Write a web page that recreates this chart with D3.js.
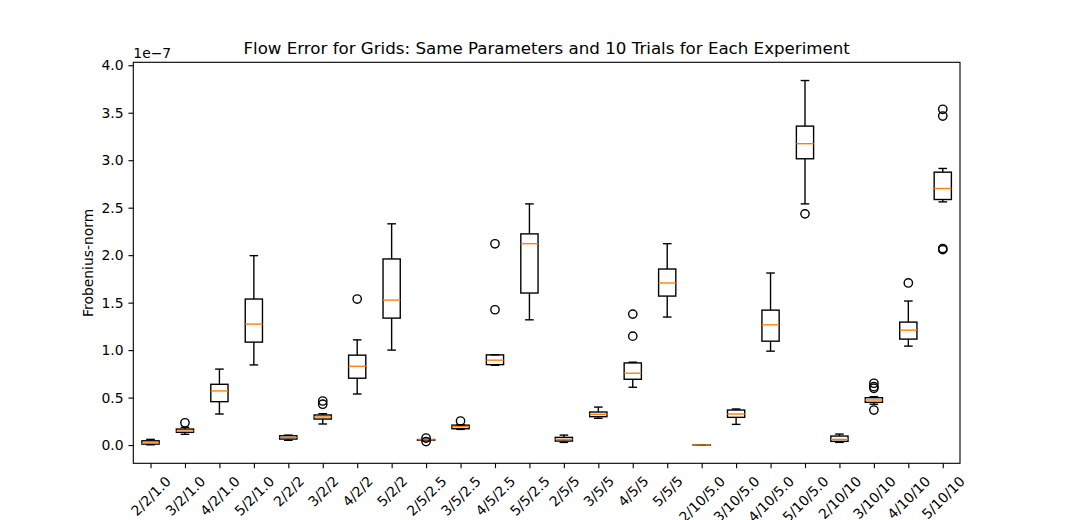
<!DOCTYPE html>
<html>
<head>
<meta charset="utf-8">
<script src="https://cdn.jsdelivr.net/npm/d3@7"></script>
<style>
  body { margin: 0; background: #fff; }
  text { font-family: "DejaVu Sans", sans-serif; fill: #000; }
</style>
</head>
<body>
<svg width="1067" height="520"></svg>
<script>
// values in units of 1e-7
var categories = ["2/2/1.0", "3/2/1.0", "4/2/1.0", "5/2/1.0", "2/2/2", "3/2/2", "4/2/2", "5/2/2",
    "2/5/2.5", "3/5/2.5", "4/5/2.5", "5/5/2.5", "2/5/5", "3/5/5", "4/5/5", "5/5/5",
    "2/10/5.0", "3/10/5.0", "4/10/5.0", "5/10/5.0", "2/10/10", "3/10/10", "4/10/10", "5/10/10"];
var whiskerLow  = [0.003, 0.113, 0.327, 0.844, 0.050, 0.222, 0.538, 1.000,
    0.045, 0.165, 0.840, 1.319, 0.028, 0.282, 0.609, 1.348,
    0.000, 0.218, 0.989, 2.540, 0.028, 0.430, 1.042, 2.561];
var q1          = [0.010, 0.134, 0.457, 1.084, 0.063, 0.274, 0.704, 1.337,
    0.050, 0.172, 0.847, 1.601, 0.042, 0.299, 0.693, 1.569,
    0.0005, 0.292, 1.094, 3.015, 0.039, 0.450, 1.116, 2.586];
var median      = [0.022, 0.148, 0.570, 1.274, 0.081, 0.296, 0.830, 1.527,
    0.055, 0.195, 0.894, 2.121, 0.060, 0.324, 0.757, 1.707,
    0.001, 0.327, 1.266, 3.174, 0.060, 0.475, 1.210, 2.702];
var q3          = [0.045, 0.169, 0.640, 1.538, 0.098, 0.317, 0.947, 1.960,
    0.058, 0.210, 0.950, 2.224, 0.081, 0.348, 0.865, 1.854,
    0.0015, 0.369, 1.421, 3.359, 0.095, 0.499, 1.295, 2.874];
var whiskerHigh = [0.060, 0.187, 0.800, 1.995, 0.105, 0.330, 1.108, 2.330,
    0.062, 0.215, 0.950, 2.540, 0.105, 0.400, 0.873, 2.121,
    0.002, 0.380, 1.812, 3.839, 0.116, 0.510, 1.517, 2.913];
var outliers = [[], [0.235], [], [], [], [0.464, 0.430], [1.538], [],
    [0.074, 0.037], [0.253], [2.120, 1.425], [], [], [], [1.379, 1.147], [],
    [], [], [], [2.435], [], [0.651, 0.615, 0.598, 0.369], [1.707], [3.536, 3.465, 2.058, 2.070]];
var yTicks = [0, 0.5, 1, 1.5, 2, 2.5, 3, 3.5, 4];

var svg = d3.select("svg");
var mLeft = 133.3, mRight = 960, mTop = 62.3, mBottom = 463.3;
var lw = 1.39;

var x = d3.scaleLinear().domain([0.5, categories.length + 0.5]).range([mLeft, mRight]);
var y = d3.scaleLinear().domain([-0.192, 4.031]).range([mBottom, mTop]);
var halfW = (x(1.25) - x(1));

svg.append("rect").attr("width", 1067).attr("height", 520).attr("fill", "#fff");

var g = svg.append("g");
categories.forEach(function(c, i) {
    var cx = x(i + 1);
    // whiskers
    g.append("line").attr("x1", cx).attr("x2", cx).attr("y1", y(q1[i])).attr("y2", y(whiskerLow[i]))
        .attr("stroke", "#000").attr("stroke-width", lw);
    g.append("line").attr("x1", cx).attr("x2", cx).attr("y1", y(q3[i])).attr("y2", y(whiskerHigh[i]))
        .attr("stroke", "#000").attr("stroke-width", lw);
    // caps
    [whiskerLow[i], whiskerHigh[i]].forEach(function(v) {
        g.append("line").attr("x1", cx - halfW / 2).attr("x2", cx + halfW / 2).attr("y1", y(v)).attr("y2", y(v))
            .attr("stroke", "#000").attr("stroke-width", lw);
    });
    // box
    g.append("rect").attr("x", cx - halfW).attr("width", 2 * halfW)
        .attr("y", y(q3[i])).attr("height", Math.max(0, y(q1[i]) - y(q3[i])))
        .attr("fill", "none").attr("stroke", "#000").attr("stroke-width", lw);
    // median
    g.append("line").attr("x1", cx - halfW).attr("x2", cx + halfW).attr("y1", y(median[i])).attr("y2", y(median[i]))
        .attr("stroke", "#ff7f0e").attr("stroke-width", lw);
    // fliers
    outliers[i].forEach(function(v) {
        g.append("circle").attr("cx", cx).attr("cy", y(v)).attr("r", 4.17)
            .attr("fill", "none").attr("stroke", "#000").attr("stroke-width", lw);
    });
});

// frame
svg.append("rect").attr("x", mLeft).attr("y", mTop).attr("width", mRight - mLeft).attr("height", mBottom - mTop)
    .attr("fill", "none").attr("stroke", "#000").attr("stroke-width", 1.11);

// y axis
var yAxis = svg.append("g").attr("transform", "translate(" + mLeft + ",0)")
    .call(d3.axisLeft(y).tickValues(yTicks).tickFormat(d3.format(".1f")).tickSize(4.86).tickPadding(4.86).tickSizeOuter(0));
yAxis.select(".domain").remove();
yAxis.selectAll("line").attr("stroke-width", 1.11);
yAxis.selectAll("text").attr("font-size", 13.9).attr("font-family", "DejaVu Sans");

// x axis
var xAxis = svg.append("g").attr("transform", "translate(0," + mBottom + ")")
    .call(d3.axisBottom(x).tickValues(d3.range(1, categories.length + 1))
        .tickFormat(function(d) { return categories[d - 1]; }).tickSize(4.86).tickSizeOuter(0));
xAxis.select(".domain").remove();
xAxis.selectAll("line").attr("stroke-width", 1.11);
xAxis.selectAll("text")
    .attr("font-size", 13.9).attr("font-family", "DejaVu Sans")
    .attr("text-anchor", "middle").attr("x", 0).attr("y", 0).attr("dy", "0.35em")
    .each(function() {
        var w = this.getComputedTextLength();
        var h = 16;
        var off = 9.72 + (w + h) / (2 * Math.SQRT2);
        d3.select(this).attr("transform", "translate(0," + off + ") rotate(-45)");
    });

// labels
svg.append("text").attr("x", (mLeft + mRight) / 2).attr("y", 54)
    .attr("text-anchor", "middle").attr("font-size", 16.67)
    .text("Flow Error for Grids: Same Parameters and 10 Trials for Each Experiment");
svg.append("text").attr("x", mLeft).attr("y", 57.5).attr("font-size", 13.9).text("1e\u22127");
svg.append("text").attr("transform", "translate(92.5," + (mTop + mBottom) / 2 + ") rotate(-90)")
    .attr("text-anchor", "middle").attr("font-size", 13.9).text("Frobenius-norm");
</script>
</body>
</html>
